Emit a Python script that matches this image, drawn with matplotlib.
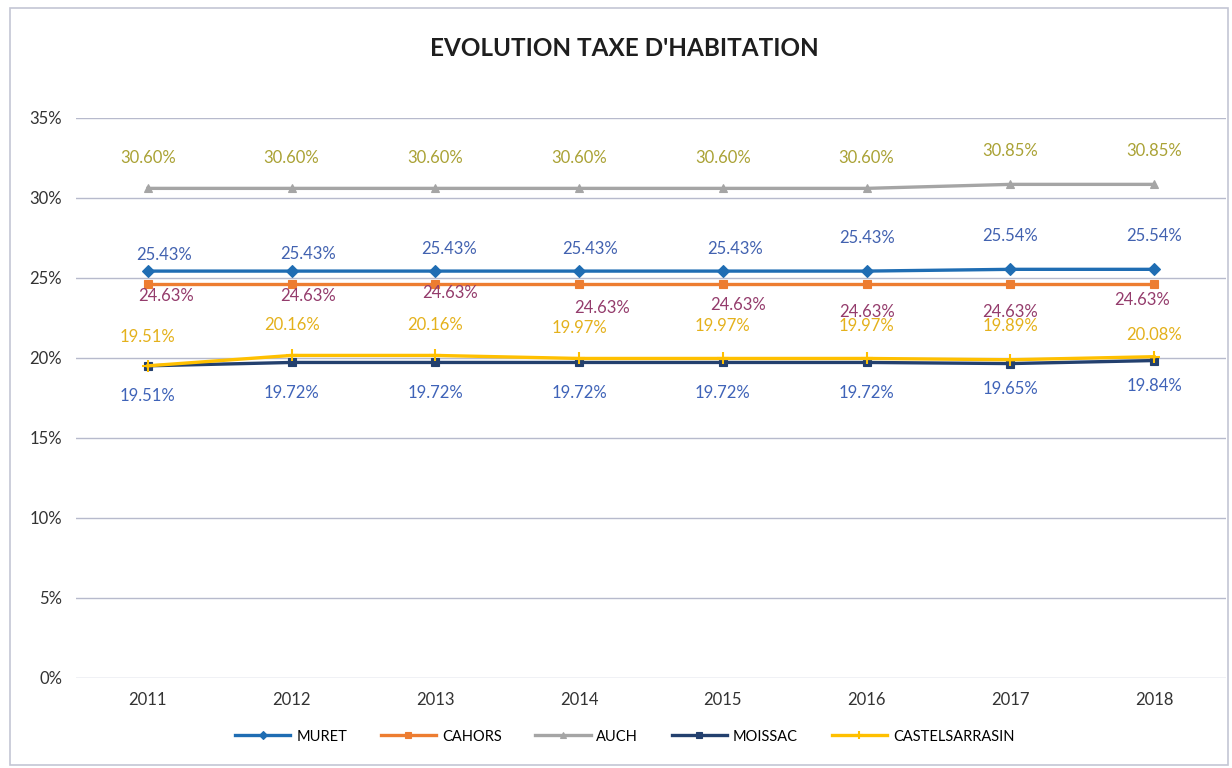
import matplotlib.pyplot as plt
from matplotlib.patches import Rectangle

plt.rcParams.update({
    "font.family": ["Lato", "DejaVu Sans"],
    "font.size": 11,
})

years = ["2011", "2012", "2013", "2014", "2015", "2016", "2017", "2018"]

muret = [25.43, 25.43, 25.43, 25.43, 25.43, 25.43, 25.54, 25.54]
cahors = [24.63, 24.63, 24.63, 24.63, 24.63, 24.63, 24.63, 24.63]
auch = [30.60, 30.60, 30.60, 30.60, 30.60, 30.60, 30.85, 30.85]
moissac = [19.51, 19.72, 19.72, 19.72, 19.72, 19.72, 19.65, 19.84]
castelsarrasin = [19.51, 20.16, 20.16, 19.97, 19.97, 19.97, 19.89, 20.08]

# name, values, line colour, marker, label colour, label dx / dy (pixels)
series = [
    ("MURET", muret, "#1f6db3", "D", "#4262b0",
     [16, 16, 14, 11, 12, 0, 0, 0], [16, 17, 22, 22, 22, 33, 33, 33]),
    ("CAHORS", cahors, "#ed7d31", "s", "#943c6c",
     [18, 16, 15, 23, 15, 0, 0, -12], [-12, -12, -9, -24, -21, -28, -28, -16]),
    ("AUCH", auch, "#a5a5a5", "^", "#aaa235",
     [0] * 8, [30, 30, 30, 30, 30, 30, 33, 33]),
    ("MOISSAC", moissac, "#23406e", "s", "#3f63b8",
     [0] * 8, [-30, -31, -31, -31, -31, -31, -25, -25]),
    ("CASTELSARRASIN", castelsarrasin, "#ffc000", "+", "#e4b11c",
     [0] * 8, [29, 30, 30, 30, 32, 32, 34, 22]),
]

fig = plt.figure(figsize=(12.32, 7.68), dpi=100)
ax = fig.add_axes([0.0617, 0.1172, 0.9334, 0.7292])

x = list(range(len(years)))
for name, vals, col, mk, lcol, dxs, dys in series:
    ms = 6 if mk != "+" else 8
    ax.plot(x, vals, color=col, lw=2.4, marker=mk, markersize=ms,
            markeredgewidth=1.5 if mk == "+" else 0.8, label=name, zorder=3)
    for xi, v, dx, dy in zip(x, vals, dxs, dys):
        ax.annotate(f"{v:.2f}%", (xi, v), xytext=(dx, dy),
                    textcoords="offset pixels", ha="center", va="center",
                    color=lcol, fontsize=12)

ax.set_xlim(-0.5, len(years) - 0.5)
ax.set_ylim(0, 35)
ax.set_yticks(range(0, 36, 5))
ax.set_yticklabels([f"{t}%" for t in range(0, 36, 5)])
ax.set_xticks(x)
ax.set_xticklabels(years)
ax.tick_params(length=0, colors="#333333", labelsize=12, pad=10)
ax.tick_params(axis="y", pad=10)
ax.grid(axis="y", color="#b7bacc", lw=1)
for s in ax.spines.values():
    s.set_visible(False)

fig.text(0.507, 0.937, "EVOLUTION TAXE D'HABITATION", ha="center",
         va="center", fontsize=17.5, fontweight="bold", color="#1e1e1e")

fig.legend(loc="center", bbox_to_anchor=(0.507, 0.041), ncol=5,
           frameon=False, handlelength=3.8, columnspacing=2.3,
           fontsize=10.5, handletextpad=0.4, markerscale=0.7)

# chart border
fig.patches.append(Rectangle((0.008, 0.004), 0.989, 0.985,
                             transform=fig.transFigure, fill=False,
                             edgecolor="#c4c6d4", lw=1.2))

fig.savefig("out.png", dpi=100)
